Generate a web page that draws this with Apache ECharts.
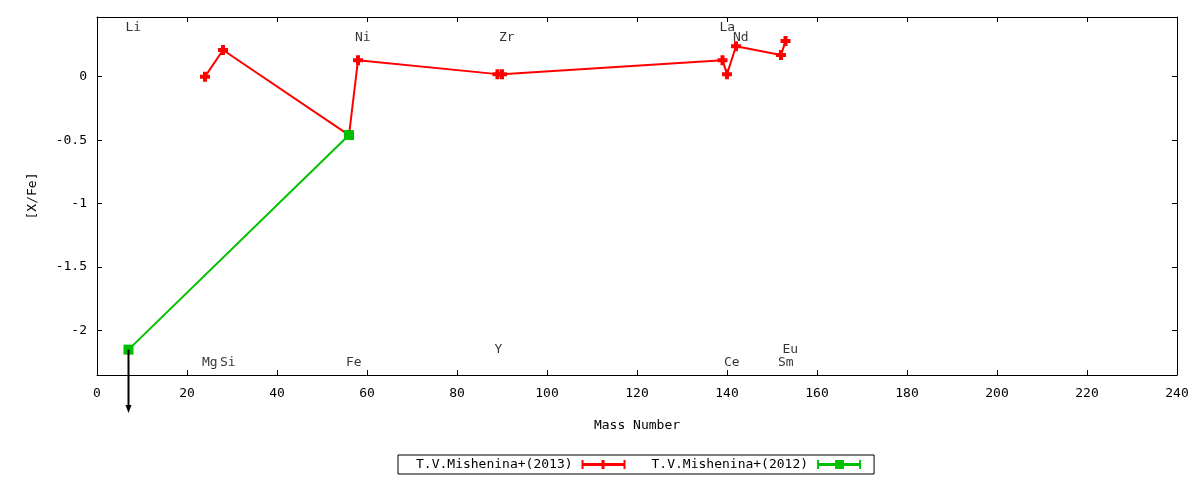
<!DOCTYPE html>
<html>
<head>
<meta charset="utf-8">
<script src="https://cdn.jsdelivr.net/npm/echarts@6/dist/echarts.min.js"></script>
<style>
  html, body { margin: 0; padding: 0; background: #fff; }
  #chart { width: 1200px; height: 480px; }
</style>
</head>
<body>
<div id="chart"></div>
<script>
// T.V.Mishenina+(2013)
const redMass = [24, 28, 56, 58, 89, 90, 139, 140, 142, 152, 153];
const redXFe = [0.00, 0.21, -0.46, 0.13, 0.02, 0.02, 0.13, 0.02, 0.24, 0.17, 0.28];

// T.V.Mishenina+(2012)
const greenMass = [7, 56];
const greenXFe = [-2.15, -0.46];

// upper limit arrow (Li)
const limitMass = [7];
const limitFrom = [-2.15];
const limitTo = [-2.65];

// element labels
const elemNames = ["Li", "Mg", "Si", "Fe", "Ni", "Y", "Zr", "La", "Ce", "Nd", "Sm", "Eu"];
const elemMass = [7, 24, 28, 56, 58, 89, 90, 139, 140, 142, 152, 153];
const elemLabelY = [0.39, -2.25, -2.25, -2.25, 0.31, -2.15, 0.31, 0.39, -2.25, 0.31, -2.25, -2.15];

const yMin = -2.35;
const yMax = 0.47;

const FONT = "DejaVu Sans Mono";
const RED = "#ff0000";
const GREEN = "#00c000";

const plusSymbol = "path://M3,0H7V3H10V7H7V10H3V7H0V3H3Z";
const redIcon = "path://M0,3H44V6H0Z M0,0H2V9H0Z M42,0H44V9H42Z M20,0H23V9H20Z";
const greenIcon = "path://M0,3H44V6H0Z M0,0H2V9H0Z M42,0H44V9H42Z M18,0H27V9H18Z";

const chart = echarts.init(document.getElementById("chart"));

const frameAxis = {
  axisLine: { show: true, onZero: false, lineStyle: { color: "#000", width: 1 } },
  axisTick: { show: true, inside: true, length: 5, lineStyle: { color: "#000" } },
  splitLine: { show: false },
};

chart.setOption({
  animation: false,
  textStyle: { fontFamily: FONT },
  grid: { left: 97, top: 17, width: 1080, height: 358 },
  legend: {
    left: 398,
    top: 455,
    align: "right",
    borderColor: "#000",
    borderWidth: 1,
    borderRadius: 0,
    padding: [3, 13, 3, 18],
    itemGap: 26,
    itemWidth: 44,
    itemHeight: 9,
    textStyle: { fontFamily: FONT, fontSize: 13, color: "#000", padding: [0, 4, 0, 0] },
    data: [
      { name: "T.V.Mishenina+(2013)", icon: redIcon },
      { name: "T.V.Mishenina+(2012)", icon: greenIcon },
    ],
  },
  xAxis: [
    {
      ...frameAxis,
      type: "value",
      min: 0,
      max: 240,
      interval: 20,
      name: "Mass Number",
      nameLocation: "middle",
      nameGap: 44,
      nameTextStyle: { fontFamily: FONT, fontSize: 13, color: "#000" },
      axisLabel: { fontFamily: FONT, fontSize: 13, color: "#000", margin: 12 },
    },
    {
      ...frameAxis,
      type: "value",
      position: "top",
      min: 0,
      max: 240,
      interval: 20,
      axisLabel: { show: false },
    },
  ],
  yAxis: [
    {
      ...frameAxis,
      type: "value",
      min: yMin,
      max: yMax,
      splitNumber: 5,
      name: "[X/Fe]",
      nameLocation: "middle",
      nameRotate: 90,
      nameGap: 58,
      nameTextStyle: { fontFamily: FONT, fontSize: 13, color: "#000" },
      axisLabel: {
        fontFamily: FONT,
        fontSize: 13,
        color: "#000",
        margin: 10,
        showMinLabel: false,
        showMaxLabel: false,
      },
    },
    {
      ...frameAxis,
      type: "value",
      position: "right",
      min: yMin,
      max: yMax,
      splitNumber: 5,
      axisLabel: { show: false },
    },
  ],
  series: [
    {
      name: "T.V.Mishenina+(2013)",
      type: "line",
      data: redMass.map((m, i) => [m, redXFe[i]]),
      color: RED,
      lineStyle: { color: RED, width: 2 },
      itemStyle: { color: RED },
      symbol: plusSymbol,
      symbolSize: 10,
      showAllSymbol: true,
      z: 3,
    },
    {
      name: "T.V.Mishenina+(2012)",
      type: "line",
      data: greenMass.map((m, i) => [m, greenXFe[i]]),
      color: GREEN,
      lineStyle: { color: GREEN, width: 2 },
      itemStyle: { color: GREEN },
      symbol: "rect",
      symbolSize: 10,
      z: 4,
    },
    {
      name: "limit",
      type: "custom",
      clip: false,
      silent: true,
      z: 5,
      data: limitMass.map((m, i) => [m, limitFrom[i], limitTo[i]]),
      renderItem: function (params, api) {
        const p0 = api.coord([api.value(0), api.value(1)]);
        const p1 = api.coord([api.value(0), api.value(2)]);
        return {
          type: "group",
          children: [
            {
              type: "line",
              shape: { x1: p0[0], y1: p0[1], x2: p1[0], y2: p1[1] - 6 },
              style: { stroke: "#000", lineWidth: 2 },
            },
            {
              type: "polygon",
              shape: { points: [[p1[0] - 3, p1[1] - 8], [p1[0] + 3, p1[1] - 8], [p1[0], p1[1]]] },
              style: { fill: "#000" },
            },
          ],
        };
      },
    },
    {
      name: "labels",
      type: "scatter",
      silent: true,
      symbolSize: 0,
      z: 6,
      data: elemMass.map((m, i) => ({ value: [m, elemLabelY[i]], name: elemNames[i] })),
      label: {
        show: true,
        position: "inside",
        align: "left",
        offset: [-3, 0],
        formatter: (p) => p.name,
        fontFamily: FONT,
        fontSize: 13,
        color: "#000",
      },
    },
  ],
});
</script>
</body>
</html>
